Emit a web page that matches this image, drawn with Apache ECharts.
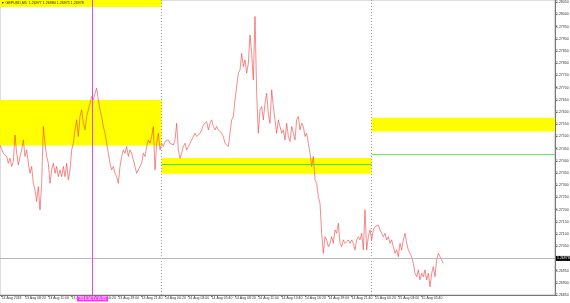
<!DOCTYPE html>
<html><head><meta charset="utf-8">
<script src="https://cdn.jsdelivr.net/npm/echarts@6/dist/echarts.min.js"></script>
<style>html,body{margin:0;padding:0;background:#fff}#c{width:570px;height:303px}</style>
</head><body><div id="c"></div>
<script>
// GBPUSD close prices, one array per trading day segment
const prices13 = [1.27465,1.27448,1.27431,1.27424,1.27418,1.27390,1.27411,1.27377,1.27397,1.27506,
1.27431,1.27383,1.27418,1.27445,1.27486,1.27418,1.27445,1.27390,1.27349,1.27377,
1.27308,1.27281,1.27233,1.27294,1.27199,1.27308,1.27541,1.27472,1.27418,1.27390,
1.27308,1.27363,1.27390,1.27349,1.27377,1.27335,1.27363,1.27335,1.27377,1.27335,
1.27390,1.27322,1.27363,1.27445,1.27472,1.27527,1.27568,1.27500,1.27582,1.27609,
1.27554,1.27527,1.27582,1.27609,1.27636,1.27664,1.27650,1.27677,1.27698,1.27650,
1.27609,1.27582,1.27541,1.27513,1.27472,1.27431,1.27390,1.27363,1.27377,1.27349,
1.27335,1.27308,1.27377,1.27418,1.27445,1.27431,1.27459,1.27418,1.27445,1.27431,
1.27404,1.27377,1.27349,1.27363,1.27377,1.27390,1.27431,1.27418,1.27459,1.27486,
1.27472,1.27500,1.27541,1.27363,1.27472,1.27513,1.27445,1.27472];
const prices14 = [1.27459,1.27479,1.27472,1.27486,1.27472,1.27479,1.27465,1.27486,1.27554,1.27445,
1.27411,1.27431,1.27459,1.27472,1.27445,1.27459,1.27472,1.27486,1.27500,1.27513,
1.27500,1.27493,1.27513,1.27527,1.27547,1.27541,1.27561,1.27527,1.27554,1.27568,
1.27541,1.27527,1.27541,1.27527,1.27534,1.27513,1.27500,1.27472,1.27479,1.27459,
1.27513,1.27568,1.27582,1.27650,1.27705,1.27759,1.27773,1.27841,1.27787,1.27814,
1.27759,1.27800,1.27916,1.27841,1.27732,1.27992,1.27677,1.27513,1.27609,1.27623,
1.27568,1.27636,1.27677,1.27595,1.27554,1.27691,1.27623,1.27568,1.27513,1.27568,
1.27541,1.27513,1.27527,1.27486,1.27554,1.27500,1.27479,1.27541,1.27513,1.27486,
1.27568,1.27582,1.27527,1.27554,1.27541,1.27500,1.27513,1.27472,1.27431,1.27377,
1.27418,1.27322,1.27308,1.27253,1.27226,1.27103,1.27021,1.27089,1.27076,1.27048,
1.27062,1.27089,1.27062,1.27117,1.27103,1.27144,1.27062,1.27048,1.27076,1.27062,
1.27069,1.27076,1.27062,1.27076,1.27062,1.27035,1.27076,1.27089,1.27076,1.27103,
1.27035,1.27199,1.27035,1.27089,1.27117,1.27076];
const prices15 = [1.27117,1.27130,1.27124,1.27137,1.27117,1.27110,1.27089,1.27103,1.27076,1.27089,
1.27062,1.27076,1.27048,1.27021,1.27035,1.27007,1.27062,1.27035,1.27076,1.27103,
1.27062,1.27035,1.27042,1.27007,1.26980,1.26939,1.26925,1.26953,1.26912,1.26939,
1.26925,1.26953,1.26912,1.26939,1.26884,1.26939,1.26966,1.26925,1.26994,1.27021,
1.27007,1.26994,1.26980];
// x-axis tick labels (one every 14 bars, starting at bar 1)
const xTickLabels = ["13 Aug 2018","13 Aug 08:20","13 Aug 11:00","13 Aug 13:40","13 Aug 16:20","13 Aug 19:00","13 Aug 21:40",
"14 Aug 00:20","14 Aug 03:00","14 Aug 05:40","14 Aug 08:20","14 Aug 11:00","14 Aug 13:40","14 Aug 16:20","14 Aug 19:00","14 Aug 21:40",
"15 Aug 00:20","15 Aug 03:00","15 Aug 05:40"];
// zones (price bounds) and levels
const zoneTop = [1.28031, 1.280595];
const zoneLeft = [1.27463, 1.27650];
const zoneMid = [1.27347, 1.27412];
const zoneRight = [1.27520, 1.27577];
const levelMid = 1.27386;
const levelRight = 1.27427;
const bidPrice = 1.26978;
const header = "\u25BC GBPUSD,M5  1.26977 1.26980 1.26975 1.26978";
const cursorLabel = "2018.08.13 15:55";
const yMin = 1.2685, yMax = 1.280595, yStep = 0.0005;
const totalBars = 334, tickEvery = 14, tickStart = 1;
const day14Idx = 97, day15Idx = 223, cursorIdx = 55;

const prices = prices13.concat(prices14, prices15);
const cats = [];
for (let i = 0; i < totalBars; i++) cats.push('b' + i);
const tickLabelAt = {};
xTickLabels.forEach((t, k) => { tickLabelAt[tickStart + k * tickEvery] = t; });
const isTick = (i) => tickLabelAt[i] !== undefined;
const FONT = 'Liberation Sans';
const MAGENTA = '#ee44ee';
const chart = echarts.init(document.getElementById('c'), null, {renderer: 'canvas'});
chart.setOption({
  animation: false,
  backgroundColor: '#fff',
  title: {text: header, left: 1, top: 1, padding: 0,
    textStyle: {fontSize: 3.6, fontWeight: 'normal', color: '#222', fontFamily: FONT}},
  grid: {left: 0, right: 15, top: 0, bottom: 8, show: true, borderColor: '#bbb', borderWidth: 1,
    containLabel: false, outerBoundsMode: 'none'},
  xAxis: {type: 'category', data: cats, boundaryGap: false,
    axisLine: {lineStyle: {color: '#777', width: 1}},
    axisTick: {show: true, length: 2, interval: (i) => isTick(i), lineStyle: {color: '#777'}},
    axisLabel: {interval: (i) => isTick(i), formatter: (v, i) => tickLabelAt[i] || '',
      fontSize: 3.5, color: '#333', align: 'left', margin: 1, fontFamily: FONT},
    splitLine: {show: false}},
  yAxis: {type: 'value', position: 'right', min: yMin, max: yMax, interval: yStep, scale: true,
    axisLine: {show: true, lineStyle: {color: '#777', width: 1}},
    axisTick: {show: true, length: 2, lineStyle: {color: '#777'}},
    axisLabel: {fontSize: 3.5, color: '#333', margin: 1, showMaxLabel: false, fontFamily: FONT,
      formatter: (v) => v.toFixed(5)},
    splitLine: {show: false}},
  series: [{
    type: 'line', data: prices, showSymbol: false, symbol: 'none', z: 2,
    lineStyle: {color: 'rgba(242,55,55,0.58)', width: 1},
    markArea: {silent: true, itemStyle: {color: '#ffff00'}, data: [
      [{xAxis: 0, yAxis: zoneTop[0]}, {xAxis: day14Idx, yAxis: zoneTop[1]}],
      [{xAxis: 0, yAxis: zoneLeft[0]}, {xAxis: day14Idx, yAxis: zoneLeft[1]}],
      [{xAxis: day14Idx, yAxis: zoneMid[0]}, {xAxis: day15Idx, yAxis: zoneMid[1]}],
      [{xAxis: day15Idx, yAxis: zoneRight[0]}, {xAxis: totalBars - 1, yAxis: zoneRight[1]}]
    ]},
    markLine: {silent: true, symbol: ['none', 'none'], label: {show: false}, data: [
      {xAxis: day14Idx, lineStyle: {color: '#999', type: [1, 2], width: 1}},
      {xAxis: day15Idx, lineStyle: {color: '#999', type: [1, 2], width: 1}},
      {yAxis: bidPrice, lineStyle: {color: '#b8b8b8', type: 'solid', width: 1},
        label: {show: true, position: 'end', distance: 1, formatter: bidPrice.toFixed(5),
          backgroundColor: '#000', color: '#fff', fontSize: 3.5, padding: [1, 1, 0, 1], fontFamily: FONT}},
      [{coord: [day14Idx, levelMid], lineStyle: {color: '#3ee63e', type: 'solid', width: 1}}, {coord: [day15Idx, levelMid]}],
      [{coord: [day15Idx, levelRight], lineStyle: {color: '#5cf05c', type: 'solid', width: 1}}, {coord: [totalBars - 1, levelRight]}]
    ]}
  }]
});
// magenta cursor line, positioned through the chart's own x scale
const cx = Math.round(chart.convertToPixel({xAxisIndex: 0}, cursorIdx)) + 0.5;
const yTop = chart.convertToPixel({yAxisIndex: 0}, yMax);
const yBot = chart.convertToPixel({yAxisIndex: 0}, yMin);
chart.setOption({graphic: [
  {type: 'line', z: 100, shape: {x1: cx, y1: yTop, x2: cx, y2: yBot}, style: {stroke: MAGENTA, lineWidth: 1}, silent: true},
  {type: 'text', z: 101, x: cx, y: yBot + 1.5, silent: true,
    style: {text: cursorLabel, fill: '#fff', backgroundColor: '#ff33ff', padding: [1, 2, 0, 2], fontSize: 3.5,
      fontFamily: FONT, align: 'center', verticalAlign: 'top'}}
]});
</script></body></html>
